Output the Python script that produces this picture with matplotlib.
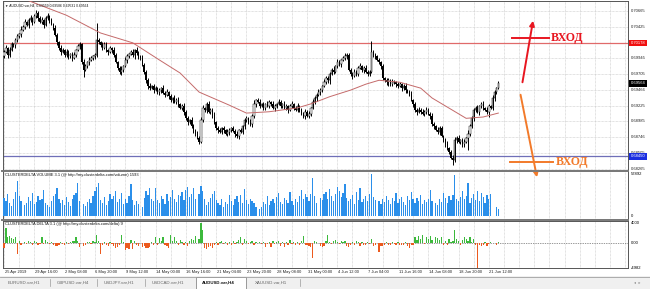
import matplotlib
matplotlib.use("Agg")
import matplotlib.pyplot as plt
import matplotlib.transforms as mtrans
from matplotlib.patches import Rectangle, FancyArrowPatch
from matplotlib.lines import Line2D
import numpy as np

# ---------------- data ----------------
first_open = 0.6998
closes = [
    0.7004, 0.7010, 0.6999, 0.7007, 0.7016, 0.7015, 0.7022, 0.7028, 0.7031,
    0.7038, 0.7042, 0.7050, 0.7045, 0.7053, 0.7056, 0.7050, 0.7059, 0.7064,
    0.7056, 0.7050, 0.7053, 0.7045, 0.7056, 0.7059, 0.7053, 0.7047, 0.7041,
    0.7030, 0.7019, 0.7010, 0.7004, 0.7007, 0.6999, 0.7004,
    0.6998, 0.7001, 0.6995, 0.6999, 0.7007, 0.7013, 0.7016,
    0.6989, 0.6977, 0.6983, 0.6989, 0.6992, 0.6995, 0.6998, 0.6999,
    0.7022,
    0.7019, 0.7015, 0.7010, 0.7016, 0.7007, 0.7004, 0.7010, 0.7007, 0.6999,
    0.6989, 0.6980, 0.6974, 0.6977, 0.6983, 0.6992,
    0.6998, 0.7001, 0.7004, 0.6999, 0.7007, 0.7002, 0.6998, 0.6995,
    0.6984, 0.6974, 0.6961, 0.6952, 0.6949,
    0.6952, 0.6946, 0.6949, 0.6943, 0.6946, 0.6949, 0.6942, 0.6939, 0.6943,
    0.6937, 0.6931, 0.6934, 0.6928, 0.6931, 0.6925, 0.6919, 0.6922, 0.6913,
    0.6903, 0.6897, 0.6900, 0.6891, 0.6885, 0.6879, 0.6873, 0.6867,
    0.6900, 0.6919, 0.6916, 0.6925, 0.6913, 0.6916, 0.6908,
    0.6897, 0.6888, 0.6885, 0.6882, 0.6888, 0.6885, 0.6879, 0.6882,
    0.6885, 0.6888, 0.6884, 0.6879, 0.6876, 0.6885, 0.6882, 0.6891,
    0.6900, 0.6903, 0.6897, 0.6894, 0.6907,
    0.6925, 0.6931, 0.6928, 0.6922, 0.6925, 0.6919,
    0.6925, 0.6922, 0.6928, 0.6925, 0.6919, 0.6922, 0.6925, 0.6928, 0.6922,
    0.6925, 0.6919, 0.6922, 0.6916, 0.6922, 0.6925, 0.6919, 0.6916, 0.6922,
    0.6916, 0.6910, 0.6907, 0.6913, 0.6907, 0.6910, 0.6919,
    0.6928, 0.6934, 0.6939, 0.6943, 0.6946,
    0.6952, 0.6958, 0.6964, 0.6961, 0.6971, 0.6977, 0.6974,
    0.6983, 0.6989, 0.6986, 0.6992, 0.6995, 0.6998, 0.6999,
    0.6977, 0.6971, 0.6968, 0.6974, 0.6971,
    0.6980, 0.6983, 0.6977, 0.6980, 0.6974, 0.6971, 0.6974,
    0.7004,
    0.6999, 0.6998, 0.6992, 0.6989, 0.6983,
    0.6964, 0.6961, 0.6958, 0.6961, 0.6955, 0.6958,
    0.6958, 0.6955, 0.6952, 0.6955, 0.6949, 0.6952, 0.6946, 0.6943, 0.6940,
    0.6931, 0.6925, 0.6916, 0.6913,
    0.6916, 0.6913, 0.6910, 0.6913, 0.6916, 0.6910, 0.6907,
    0.6894, 0.6891, 0.6885, 0.6882, 0.6888, 0.6876, 0.6870,
    0.6864, 0.6858, 0.6852, 0.6843, 0.6840,
    0.6870, 0.6873, 0.6867, 0.6870, 0.6864, 0.6867, 0.6873,
    0.6879, 0.6891, 0.6903,
    0.6916, 0.6919, 0.6913, 0.6922,
    0.6925, 0.6919, 0.6916, 0.6913, 0.6922, 0.6919,
    0.6934, 0.6943, 0.6949, 0.69564,
]
wick_up_pips = [
    3, 4, 2, 5, 3, 2, 4, 3, 2, 5, 3, 4, 2, 3, 5, 2, 3, 4, 2, 3,
    4, 2, 3, 5, 2, 3, 2, 4, 3, 2, 5, 3, 2, 4, 3, 2, 3, 5, 2, 4,
    3, 2, 4, 3, 2, 5, 3, 2, 4, 26, 3, 2, 5, 3, 4, 2, 3, 2, 4, 3,
    2, 3, 5, 2, 4, 3, 2, 3, 4, 2, 5, 3, 2, 4, 3, 2, 3, 5, 2, 3,
    4, 2, 3, 2, 5, 3, 4, 2, 3, 2, 4, 3, 5, 2, 3, 4, 2, 3, 2, 5,
    3, 2, 4, 3, 5, 4, 2, 3, 4, 2, 3, 5, 2, 3, 4, 2, 3, 2, 4, 3,
    2, 4, 3, 5, 2, 3, 2, 4, 3, 2, 5, 3, 6, 2, 3, 4, 2, 3, 2, 4,
    3, 2, 4, 3, 2, 5, 3, 2, 4, 3, 2, 3, 5, 2, 3, 4, 2, 3, 2, 4,
    3, 4, 2, 5, 3, 2, 4, 3, 2, 5, 3, 4, 2, 3, 5, 2, 4, 3, 2, 3,
    5, 4, 3, 2, 3, 4, 2, 3, 5, 2, 3, 4, 2, 3, 17, 3, 4, 2, 3, 2,
    3, 2, 4, 3, 2, 5, 3, 2, 4, 3, 2, 3, 5, 2, 3, 4, 2, 3, 2, 4,
    3, 4, 2, 5, 3, 2, 4, 3, 2, 5, 3, 4, 2, 3, 5, 2, 3, 4, 5, 3,
    4, 2, 3, 5, 2, 6, 3, 4, 2, 3, 5, 2, 3, 4, 2, 5, 3, 2, 4, 3,
    2, 4,
]
wick_lo_pips = [
    3, 2, 4, 3, 2, 3, 5, 2, 3, 4, 2, 3, 2, 4, 3, 5, 2, 3, 4, 2,
    3, 5, 2, 3, 4, 2, 3, 2, 5, 3, 4, 2, 3, 2, 4, 3, 5, 2, 3, 2,
    4, 3, 11, 2, 3, 4, 2, 3, 5, 3, 2, 4, 3, 2, 3, 5, 2, 4, 3, 2,
    3, 4, 5, 3, 2, 4, 3, 2, 3, 5, 2, 4, 3, 2, 3, 4, 5, 3, 2, 4,
    2, 3, 4, 5, 2, 3, 2, 4, 3, 5, 2, 3, 4, 2, 3, 5, 2, 4, 3, 2,
    4, 3, 2, 3, 2, 3, 4, 5, 2, 3, 4, 2, 3, 5, 2, 3, 4, 2, 3, 5,
    3, 2, 4, 3, 5, 2, 3, 4, 2, 3, 2, 4, 3, 5, 2, 3, 2, 4, 3, 2,
    4, 3, 2, 5, 3, 2, 4, 3, 2, 3, 5, 2, 4, 3, 2, 3, 4, 2, 3, 5,
    2, 3, 4, 2, 3, 5, 2, 4, 3, 2, 3, 4, 5, 2, 3, 2, 4, 3, 5, 2,
    3, 4, 2, 3, 5, 2, 3, 4, 2, 3, 5, 2, 4, 3, 2, 3, 4, 2, 3, 5,
    2, 3, 4, 5, 2, 3, 2, 4, 3, 2, 5, 3, 4, 2, 3, 2, 4, 3, 5, 2,
    3, 2, 4, 3, 2, 5, 3, 4, 2, 3, 4, 2, 3, 5, 4, 3, 2, 8, 3, 4,
    2, 3, 4, 5, 2, 18, 3, 2, 4, 3, 2, 5, 3, 4, 2, 3, 8, 2, 3, 4,
    3, 2,
]
volume_k = [
    25, 20, 30, 18, 14, 23, 33, 48, 27, 20,
    0, 15, 18, 26, 20, 32, 16, 19, 28, 22,
    23, 36, 18, 15, 12, 20, 27, 30, 38, 24,
    18, 22, 15, 26, 19, 14, 23, 29, 32, 45,
    20, 0, 16, 14, 19, 24, 18, 28, 34, 40,
    45, 22, 18, 26, 15, 20, 30, 23, 27, 35,
    19, 23, 32, 16, 24, 18, 28, 44, 22, 15,
    20, 17, 0, 13, 25, 35, 29, 38, 23, 20,
    39, 22, 18, 28, 24, 16, 31, 20, 26, 36,
    23, 19, 29, 27, 33, 22, 36, 40, 26, 30,
    38, 24, 0, 30, 42, 34, 24, 15, 19, 25,
    31, 35, 22, 18, 15, 23, 13, 19, 16, 29,
    20, 15, 23, 27, 19, 29, 18, 37, 22, 16,
    24, 20, 18, 13, 0, 9, 12, 19, 16, 27,
    15, 20, 23, 18, 26, 32, 19, 16, 25, 22,
    18, 33, 20, 15, 24, 19, 28, 36, 23, 30,
    26, 20, 31, 52, 27, 18, 0, 25, 22, 30,
    33, 24, 37, 28, 20, 30, 40, 35, 26, 32,
    44, 25, 20, 23, 29, 16, 33, 22, 38, 19,
    24, 27, 20, 31, 57.892, 26, 22, 0, 20, 17,
    24, 19, 27, 22, 16, 25, 20, 32, 18, 23,
    26, 19, 15, 28, 22, 33, 23, 18, 25, 20,
    29, 16, 22, 19, 24, 36, 20, 0, 18, 15,
    23, 19, 32, 25, 18, 27, 22, 29, 56, 24,
    20, 26, 34, 23, 28, 46, 18, 25, 30, 22,
    35, 20, 32, 26, 18, 29, 23, 30, 0, 0,
    12, 10,
]
delta = [
    -1000, 3000, 1200, 1500, 1000, 800, 1300, -2200, 400, -300,
    0, 300, -200, 400, 200, -300, 500, 300, -400, -200,
    1200, -150, 700, 300, -200, 150, -350, -500, -600, -300,
    200, -250, -400, 300, -150, 200, 350, 500, 1200, 400,
    -700, 0, -600, -300, 250, 200, -200, 400, 300, 1600,
    500, -2200, -400, 200, -300, -500, 300, -200, -600, -1000,
    -700, -400, 1600, 300, -1300, -900, -1200, 600, -1100, 400,
    -300, -500, 0, -800, -600, -900, -1000, -700, 300, -400,
    1200, -300, 1000, 400, 1300, -300, -500, -1000, 1600, 500,
    1200, 400, -300, 700, 200, -400, 300, -600, 500, 800,
    600, 1500, 0, 900, 4000, 2600, -900, -1100, -800, -600,
    -900, -400, 300, -300, 200, 500, -200, 300, -400, 200,
    -300, 400, -200, 300, 600, 1300, -300, 800, 400, -200,
    300, 500, -400, 200, 0, 150, -200, 300, -700, -150,
    200, -800, 350, -200, 150, 400, -600, 200, -700, 300,
    -300, 600, -200, 250, -350, 200, -300, 400, 1500, -400,
    -300, -600, -800, -3000, 400, 300, 0, -600, -800, -500,
    400, 1600, 300, -200, 500, 600, 300, -200, 400, 300,
    500, -600, -800, -400, 200, -300, 400, 300, -500, 200,
    -400, -300, 300, -200, 800, -500, -300, 0, -1800, -600,
    -500, -300, 200, -400, -300, 300, -200, -400, 200, -300,
    -400, -300, 200, -500, -1000, -400, -300, 1200, 600, 1400,
    800, 1600, -200, 1300, 900, 1500, 600, 0, 1200, 1000,
    700, 1200, -300, 500, -400, 800, 300, 400, 2600, 900,
    400, -300, 600, 1300, 900, 500, 1200, 300, 800, -300,
    -4982, -400, -600, -300, 200, -500, -200, 300, 0, 0,
    -300, 200,
]
# moving average (bar number, value)
ma_bar = [8, 15, 33, 51, 68, 82, 93, 103, 119, 128, 140, 155, 162,
          172, 183, 191, 198, 209, 220, 226, 244, 253, 261]
ma_val = [0.7088, 0.7080, 0.7060, 0.7033, 0.7018, 0.6992, 0.6972, 0.6943,
          0.6923, 0.6911, 0.6913, 0.6919, 0.6925, 0.6936, 0.6946, 0.6955,
          0.6961, 0.6958, 0.6949, 0.6934, 0.6903, 0.6905, 0.6911]

time_labels = ["25 Apr 2019", "29 Apr 16:00", "2 May 08:00", "6 May 20:00",
               "9 May 12:00", "14 May 00:00", "16 May 16:00", "21 May 04:00",
               "23 May 20:00", "28 May 08:00", "31 May 00:00", "4 Jun 12:00",
               "7 Jun 04:00", "11 Jun 16:00", "14 Jun 08:00", "18 Jun 20:00",
               "21 Jun 12:00"]
price_ticks = [0.70665, 0.70425, 0.70185, 0.69945, 0.69705, 0.69466,
               0.69225, 0.68985, 0.68746, 0.68505, 0.68265]
red_level = 0.70178
blue_level = 0.68450
last_price = 0.69564
symbol_title = "\u25bc AUDUSD.var,H4  0.69559 0.69586 0.69531 0.69564"
vol_title = "CLUSTERDELTA VOLUME 3.1 (@ http://my.clusterdelta.com/volume) 1593"
delta_title = "CLUSTERDELTA DELTA 3.1 (@ http://my.clusterdelta.com/delta) 9"
vol_max = 57892
delta_marks = [(4000, "4000"), (0, "0.00"), (-4982, "-4982")]
tabs = ["EURUSD.var,H1", "GBPUSD.var,H4", "USDJPY.var,H1", "USDCAD.var,H1",
        "AUDUSD.var,H4", "XAUUSD.var,H1"]
active_tab = "AUDUSD.var,H4"
entry_text = "ВХОД"

# ---------------- layout ----------------
W, H = 650, 289
fig = plt.figure(figsize=(W / 100, H / 100), dpi=100)
fig.patch.set_facecolor("white")
FONT = ["Liberation Sans", "DejaVu Sans"]
plt.rcParams["font.family"] = FONT

def fx(x):
    return x / W

def fy(y):
    return 1 - y / H

def ax_px(x0, y0, x1, y1):
    return fig.add_axes([x0 / W, 1 - y1 / H, (x1 - x0) / W, (y1 - y0) / H])

PITCH = 1.894
X0 = 4.0
XL = ((3 - X0) / PITCH, (628 - X0) / PITCH)

ax = ax_px(3, 1, 628, 170)
axv = ax_px(3, 171, 628, 219)
axd = ax_px(3, 221, 628, 268)

def p_of_y(y):
    return 0.70833 - 0.00015238 * y

ax.set_ylim(p_of_y(170), p_of_y(1))
v_per_px = vol_max / 42.0
axv.set_ylim(-3 * v_per_px, vol_max + 3 * v_per_px)
axd.set_ylim(-5000, 4400)

GRID = "#c6c6c6"
for a in (ax, axv, axd):
    a.set_xlim(*XL)
    a.set_xticks([])
    a.set_yticks([])
    for s in a.spines.values():
        s.set_color("#555555")
        s.set_linewidth(0.7)
    for g in range(0, 330, 8):
        a.axvline(g, color=GRID, lw=0.5, ls=(0, (1, 1)), zorder=0)

for t in price_ticks:
    ax.axhline(t, color=GRID, lw=0.5, ls=(0, (1, 1)), zorder=0)

# ---------------- candles ----------------
c = np.array(closes)
o = np.concatenate([[first_open], c[:-1]])
hi = np.maximum(o, c) + np.array(wick_up_pips) * 0.0001
lo = np.minimum(o, c) - np.array(wick_lo_pips) * 0.0001
idx = np.arange(len(c))
ax.vlines(idx, lo, hi, color="black", lw=0.7, zorder=3)
bull = c >= o
ax.bar(idx[bull], (c - o)[bull], bottom=o[bull], width=0.72,
       facecolor="white", edgecolor="black", lw=0.35, zorder=4)
ax.bar(idx[~bull], (o - c)[~bull], bottom=c[~bull], width=0.72,
       color="black", lw=0, zorder=4)

ax.plot(ma_bar, ma_val, color="#c46a6a", lw=0.7, zorder=5)

ax.axhline(red_level, color="#e06a6a", lw=0.9, zorder=2)
ax.axhline(blue_level, color="#6f6fb8", lw=0.9, zorder=2)

blend = mtrans.blended_transform_factory(ax.transAxes, ax.transData)
for t in price_ticks:
    ax.text(1.004, t, f"{t:.5f}", transform=blend, fontsize=3.0,
            va="center", ha="left", color="#222222", clip_on=False, zorder=6)
for lvl, bg in ((red_level, "#f01010"), (last_price, "black"), (blue_level, "#1a2fe0")):
    ax.text(1.004, lvl, f"{lvl:.5f}", transform=blend, fontsize=3.0,
            va="center", ha="left", color="white", clip_on=False, zorder=8,
            bbox=dict(boxstyle="square,pad=0.35", fc=bg, ec="none"))

ax.text(0.003, 0.975, symbol_title, transform=ax.transAxes, fontsize=2.4,
        va="center", ha="left", color="#111111", zorder=7)

# ---------------- volume ----------------
axv.bar(idx, np.array(volume_k) * 1000, width=0.66, color="#2b8fea", lw=0, zorder=3)
axv.text(0.003, 0.92, vol_title, transform=axv.transAxes, fontsize=2.9,
         va="center", ha="left", color="#111111", zorder=6)
blend_v = mtrans.blended_transform_factory(axv.transAxes, axv.transData)
axv.text(1.004, vol_max, f"{vol_max}", transform=blend_v, fontsize=3.0,
         va="center", ha="left", clip_on=False)
axv.text(1.004, 0, "0", transform=blend_v, fontsize=3.0, va="center",
         ha="left", clip_on=False)

# ---------------- delta ----------------
d = np.array(delta)
cols = np.where(d >= 0, "#3cb93c", "#ec5a1e")
axd.bar(idx, d, width=0.66, color=cols, lw=0, zorder=3)
axd.axhline(0, color="#333333", lw=0.5, ls=(0, (1, 1.5)), zorder=2)
axd.text(0.003, 0.93, delta_title, transform=axd.transAxes, fontsize=2.9,
         va="center", ha="left", color="#111111", zorder=6)
blend_d = mtrans.blended_transform_factory(axd.transAxes, axd.transData)
for val, lab in delta_marks:
    axd.text(1.004, val, lab, transform=blend_d, fontsize=3.0, va="center",
             ha="left", clip_on=False)

blend_t = mtrans.blended_transform_factory(axd.transData, axd.transAxes)
for k, lab in enumerate(time_labels):
    axd.text(16 * k + 0.3, -0.085, lab, transform=blend_t, fontsize=2.9,
             va="center", ha="left", color="#222222", clip_on=False)

for ysep in (170.5, 220):
    fig.add_artist(Line2D([fx(2), fx(628)], [fy(ysep), fy(ysep)],
                          color="#7a7a7a", lw=1.4, transform=fig.transFigure))

# ---------------- annotations ----------------
RED = "#e81620"
ORANGE = "#f27a2a"
fig.add_artist(FancyArrowPatch((fx(522), fy(85)), (fx(533.5), fy(18)),
                               transform=fig.transFigure, arrowstyle="-|>",
                               mutation_scale=7, color=RED, lw=1.4))
fig.add_artist(Line2D([fx(512), fx(549)], [fy(38), fy(38)], color=RED, lw=1.4,
                      transform=fig.transFigure))
fig.text(fx(551), fy(38.5), entry_text, color=RED, fontsize=8.6,
         fontweight="bold", family=["Liberation Serif", "DejaVu Serif"],
         va="center", ha="left")
fig.add_artist(FancyArrowPatch((fx(520), fy(92)), (fx(537.5), fy(180)),
                               transform=fig.transFigure, arrowstyle="-|>",
                               mutation_scale=7, color=ORANGE, lw=1.4))
fig.add_artist(Line2D([fx(510), fx(553)], [fy(162), fy(162)], color=ORANGE,
                      lw=1.4, transform=fig.transFigure))
fig.text(fx(556), fy(162.5), entry_text, color=ORANGE, fontsize=8.6,
         fontweight="bold", family=["Liberation Serif", "DejaVu Serif"],
         va="center", ha="left")

# ---------------- tab bar ----------------
fig.add_artist(Rectangle((0, fy(289)), 1, 13 / H, transform=fig.transFigure,
                         fc="#f0f0f0", ec="none", zorder=0))
fig.add_artist(Line2D([0, 1], [fy(276.5), fy(276.5)], color="#a0a0a0", lw=0.6,
                      transform=fig.transFigure))
tab_x = [8, 57, 104, 152, 202, 255]
sep_x = [50, 97, 145, 300]
fig.add_artist(Rectangle((fx(196), fy(289)), 50 / W, 12.5 / H,
                         transform=fig.transFigure, fc="white", ec="#8a8a8a",
                         lw=0.6, zorder=1))
for name, x in zip(tabs, tab_x):
    bold = name == active_tab
    fig.text(fx(x), fy(282.5), name, fontsize=3.2,
             fontweight="bold" if bold else "normal",
             color="#111111" if bold else "#666666", va="center", ha="left",
             zorder=3)
for x in sep_x:
    fig.add_artist(Line2D([fx(x), fx(x)], [fy(279), fy(286)], color="#9a9a9a",
                          lw=0.5, transform=fig.transFigure))
fig.text(fx(634), fy(282.5), "\u25c2  \u25b8", fontsize=2.8, color="#888888",
         va="center", ha="left", family=["DejaVu Sans"])

fig.savefig("out.png", dpi=100, facecolor="white")
